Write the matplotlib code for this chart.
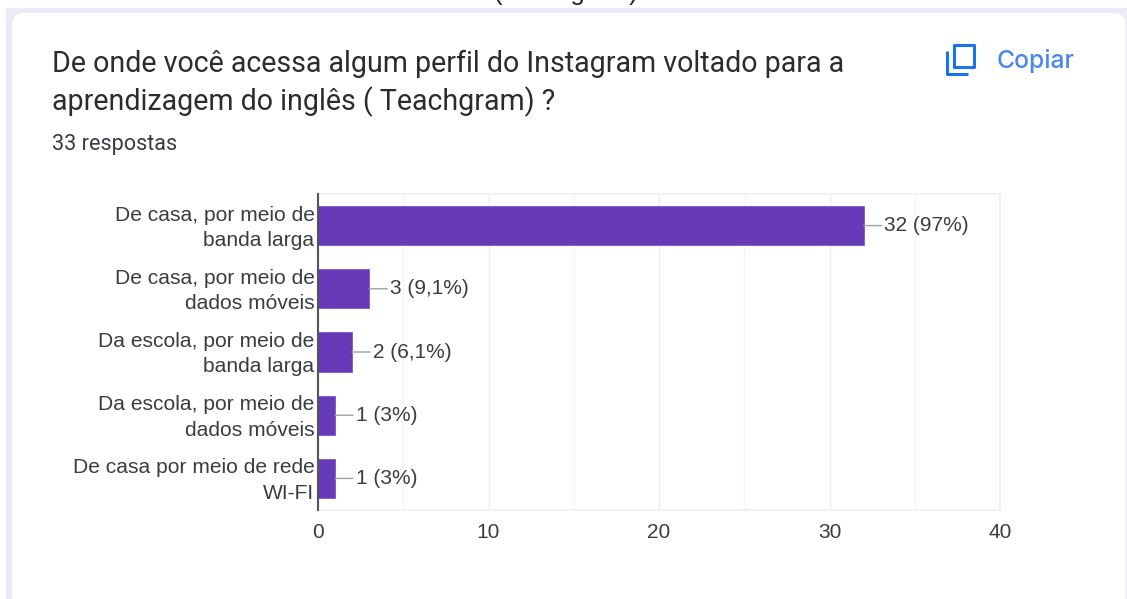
import matplotlib
matplotlib.use("Agg")
import matplotlib.pyplot as plt
from matplotlib.patches import FancyBboxPatch, Rectangle
from matplotlib.transforms import ScaledTranslation

W, H = 1127, 599

categorias = [
    "De casa, por meio de\nbanda larga",
    "De casa, por meio de\ndados móveis",
    "Da escola, por meio de\nbanda larga",
    "Da escola, por meio de\ndados móveis",
    "De casa por meio de rede\nWI-FI",
]
respostas = [32, 3, 2, 1, 1]
rotulos = ["32 (97%)", "3 (9,1%)", "2 (6,1%)", "1 (3%)", "1 (3%)"]
ticks_x = [0, 10, 20, 30, 40]
grade_menor = [5, 15, 25, 35]

titulo = ["De onde você acessa algum perfil do Instagram voltado para a",
          "aprendizagem do inglês ( Teachgram) ?"]
subtitulo = "33 respostas"
texto_cortado = "(Teachgram)"
copiar = "Copiar"

ROXO = "#673ab7"
AZUL = "#1a73e8"
TEXTO = "#3c3c40"
BANDA = "#eceaf6"

fig = plt.figure(figsize=(W / 100, H / 100), dpi=100, facecolor="white")

# camada de fundo em coordenadas de pixel
bg = fig.add_axes([0, 0, 1, 1])
bg.set_xlim(0, W)
bg.set_ylim(H, 0)
bg.axis("off")

bg.add_patch(Rectangle((6, 8), W, H, fc=BANDA, ec="none"))
bg.add_patch(FancyBboxPatch((12, 13), 1113.5, 700, boxstyle="round,pad=0,rounding_size=12",
                            fc="white", ec="none"))

bg.text(566, 0, texto_cortado, family="Liberation Sans", fontsize=18.5, color="#222222",
        ha="center", va="baseline")
bg.text(52, 72, titulo[0], family="Roboto", fontsize=20.6, color="#2b2b30",
        ha="left", va="baseline")
bg.text(52, 110, titulo[1], family="Roboto", fontsize=20.6, color="#2b2b30",
        ha="left", va="baseline")
bg.text(52, 150, subtitulo, family="Roboto", fontsize=15.6, color="#3a3a40",
        ha="left", va="baseline")
bg.text(997, 68, copiar, family="Inter", fontsize=17.8, fontweight="medium", color="#4a86f0",
        ha="left", va="baseline")

# icone de copiar
bg.add_patch(Rectangle((953.5, 45), 20.5, 21.5, fc="none", ec=AZUL, lw=2.2, joinstyle="round"))
bg.plot([947, 947, 968], [51, 73.5, 73.5], color=AZUL, lw=2.2, solid_capstyle="butt",
        solid_joinstyle="round")

# grafico de barras
x0, x1, y0, y1 = 318, 1000, 194, 510
ax = fig.add_axes([x0 / W, 1 - y1 / H, (x1 - x0) / W, (y1 - y0) / H])
ax.patch.set_alpha(0)

pos = list(range(len(categorias)))
ax.barh(pos, respostas, height=0.62, color=ROXO, edgecolor="#7e57c2", linewidth=0.6, zorder=3)
ax.set_xlim(0, 40)
ax.set_ylim(4.5, -0.5)

ax.set_xticks(ticks_x)
ax.set_xticks(grade_menor, minor=True)
ax.grid(True, axis="x", which="major", color="#ececec", lw=1, zorder=0)
ax.grid(True, axis="x", which="minor", color="#f5f5f5", lw=1, zorder=0)
ax.tick_params(axis="both", which="both", length=0)
ax.tick_params(axis="x", pad=9.5, labelsize=15, labelcolor=TEXTO)
ax.set_yticks(pos)
ax.set_yticklabels(categorias, family="Liberation Sans", fontsize=15.1, color=TEXTO,
                   linespacing=1.42)
ax.tick_params(axis="y", pad=2.6)
for t in ax.get_xticklabels():
    t.set_family("Liberation Sans")
# sobe um pouco os rotulos de duas linhas
for t in ax.get_yticklabels():
    t.set_transform(t.get_transform() + ScaledTranslation(0, 3 / 100, fig.dpi_scale_trans))

for lado in ["top", "right", "bottom"]:
    ax.spines[lado].set_color("#f0f0f0")
    ax.spines[lado].set_linewidth(1.3)
ax.spines["left"].set_color("#555555")
ax.spines["left"].set_linewidth(1.5)
ax.spines["left"].set_zorder(5)

for p, v, r in zip(pos, respostas, rotulos):
    ax.annotate(r, xy=(v, p), xytext=(15, 0), textcoords="offset points",
                family="Liberation Sans", fontsize=15, color=TEXTO, ha="left", va="center",
                arrowprops=dict(arrowstyle="-", color="#a0a0a0", lw=1, shrinkA=0, shrinkB=0,
                                relpos=(0, 0.5)),
                zorder=4)

fig.savefig("out.png", dpi=100)
plt.close(fig)
